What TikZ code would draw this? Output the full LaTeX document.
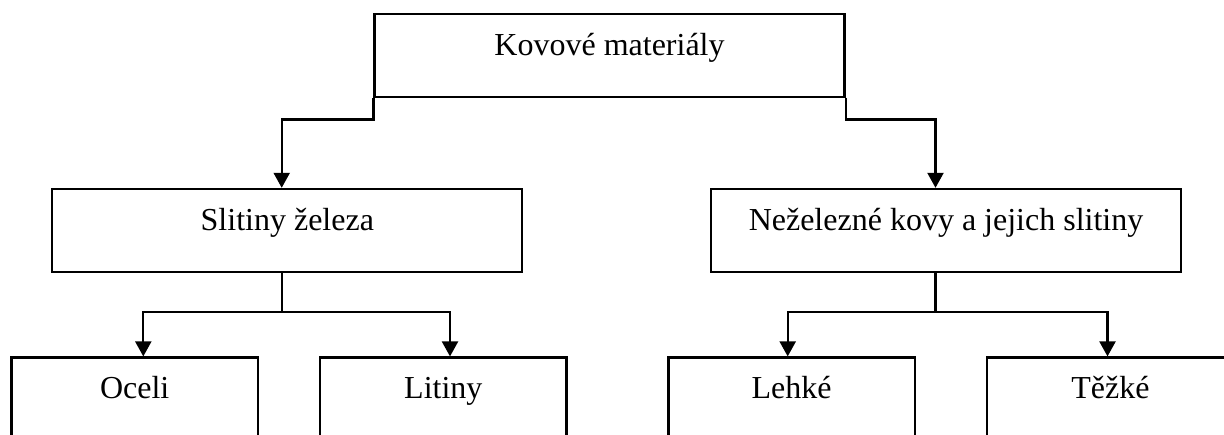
\documentclass[tikz,border=0pt]{standalone}
\usepackage{fontspec}
\setmainfont{Liberation Serif}
\usetikzlibrary{arrows.meta}
\begin{document}
\begin{tikzpicture}[x=0.5pt,y=-0.5pt,
  box/.style={draw=black, line width=1.1pt, rectangle, inner sep=0pt, fill=white},
  bigbox/.style={box, minimum width=235pt, minimum height=41.5pt},
  smallbox/.style={box, minimum width=123.2pt, minimum height=41.5pt},
  txt/.style={anchor=base, inner sep=0pt, font=\fontsize{16}{19}\selectfont},
  conn/.style={draw=black, line width=1.1pt},
  arr/.style={conn, -{Triangle[length=7.5pt,width=8pt]}}]
\useasboundingbox (0,0) rectangle (1224,434);
\fill[white] (0,0) rectangle (1224,434);
\clip (0,0) rectangle (1224,434);
% boxes
\node[bigbox] (top) at (609.5,55.1) {};
\node[bigbox] (slit) at (287.3,230.4) {};
\node[bigbox] (nez) at (946,230.4) {};
\node[smallbox] (oc) at (134.7,399) {};
\node[smallbox] (lit) at (443.3,399) {};
\node[smallbox] (leh) at (791.6,399) {};
\node[smallbox] (tez) at (1110.5,399) {};
% texts
\node[txt] (ttop) at (609.5,55) {Kovové materiály};
\node[txt] (tslit) at (287.3,230) {Slitiny železa};
\node[txt] (tnez) at (946,230) {Neželezné kovy a jejich slitiny};
\node[txt] (toc) at (134.7,398) {Oceli};
\node[txt] (tlit) at (443.3,398) {Litiny};
\node[txt] (tleh) at (791.6,398) {Lehké};
\node[txt] (ttez) at (1110.5,398) {Těžké};
% connectors from top
\coordinate (a1) at (281.7,119.5);
\coordinate (a2) at (935.5,119.5);
\draw[arr] (top.south west) |- (a1) -- (a1 |- slit.north);
\draw[arr] (top.south east) |- (a2) -- (a2 |- nez.north);
% Slitiny branch
\coordinate (b0) at (281.7,312.3);
\coordinate (b1) at (143.3,312.3);
\coordinate (b2) at (450,312.3);
\draw[conn] (b0 |- slit.south) -- (b0);
\draw[arr] (b0) -- (b1) -- (b1 |- oc.north);
\draw[arr] (b0) -- (b2) -- (b2 |- lit.north);
% Nezelezne branch
\coordinate (c0) at (935.5,312.3);
\coordinate (c1) at (787.7,312.3);
\coordinate (c2) at (1107.5,312.3);
\draw[conn] (c0 |- nez.south) -- (c0);
\draw[arr] (c0) -- (c1) -- (c1 |- leh.north);
\draw[arr] (c0) -- (c2) -- (c2 |- tez.north);
\end{tikzpicture}
\end{document}
